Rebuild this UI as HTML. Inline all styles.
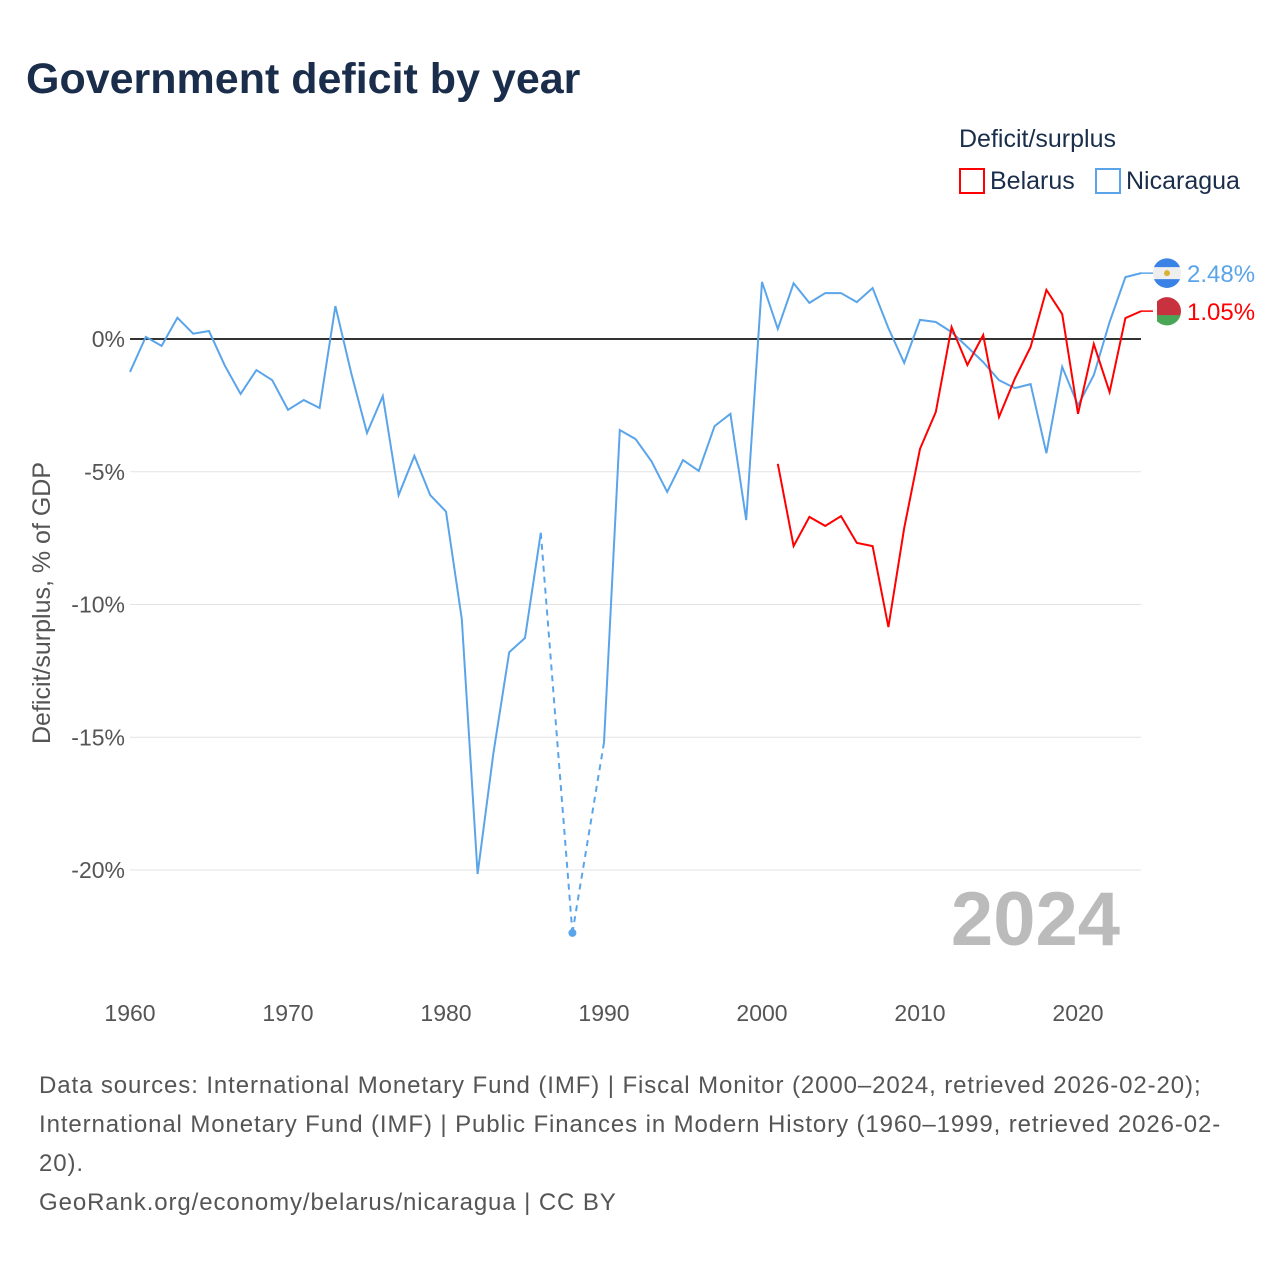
<!DOCTYPE html>
<html><head><meta charset="utf-8"><style>
body{margin:0;width:1280px;height:1280px;background:#fff;font-family:"Liberation Sans",sans-serif;overflow:hidden}
</style></head><body>
<svg id="chart" width="1280" height="1280" xmlns="http://www.w3.org/2000/svg">
<text x="26" y="93" font-size="43" font-weight="bold" fill="#1a2e4c">Government deficit by year</text>
<text x="959" y="147" font-size="25" fill="#1a2e4c">Deficit/surplus</text>
<g><rect x="960" y="169" width="24" height="24" fill="none" stroke="#f00" stroke-width="2"/><text x="990" y="189" font-size="25" fill="#1a2e4c">Belarus</text></g>
<g><rect x="1096" y="169" width="24" height="24" fill="none" stroke="#5aa5ea" stroke-width="2"/><text x="1126" y="189" font-size="25" fill="#1a2e4c">Nicaragua</text></g>
<text transform="translate(50,603) rotate(-90)" text-anchor="middle" font-size="25" fill="#555">Deficit/surplus, % of GDP</text>
<g id="grid"></g><g id="series"></g>
<text x="1120" y="945" text-anchor="end" font-size="76" font-weight="bold" fill="#bbb">2024</text>
<g font-size="24" fill="#555" letter-spacing="0.9">
<text x="39" y="1093">Data sources: International Monetary Fund (IMF) | Fiscal Monitor (2000–2024, retrieved 2026-02-20);</text>
<text x="39" y="1132">International Monetary Fund (IMF) | Public Finances in Modern History (1960–1999, retrieved 2026-02-</text>
<text x="39" y="1171">20).</text>
<text x="39" y="1210">GeoRank.org/economy/belarus/nicaragua | CC BY</text>
</g>
</svg>
<script>
const yTicks=[0,-5,-10,-15,-20];
const xTicks=[1960,1970,1980,1990,2000,2010,2020];
const nicYears=[1960,1961,1962,1963,1964,1965,1966,1967,1968,1969,1970,1971,1972,1973,1974,1975,1976,1977,1978,1979,1980,1981,1982,1983,1984,1985,1986,1988,1990,1991,1992,1993,1994,1995,1996,1997,1998,1999,2000,2001,2002,2003,2004,2005,2006,2007,2008,2009,2010,2011,2012,2013,2014,2015,2016,2017,2018,2019,2020,2021,2022,2023,2024];
const nicValues=[-1.24,0.08,-0.26,0.8,0.2,0.3,-1.0,-2.07,-1.17,-1.55,-2.67,-2.3,-2.6,1.24,-1.28,-3.54,-2.15,-5.88,-4.4,-5.88,-6.5,-10.55,-20.15,-15.6,-11.8,-11.26,-7.3,-22.37,-15.2,-3.43,-3.77,-4.6,-5.76,-4.56,-4.97,-3.28,-2.82,-6.82,2.15,0.38,2.1,1.36,1.73,1.73,1.39,1.92,0.41,-0.9,0.72,0.64,0.26,-0.3,-0.87,-1.55,-1.85,-1.7,-4.3,-1.05,-2.5,-1.36,0.64,2.33,2.48];
const blrYears=[2001,2002,2003,2004,2005,2006,2007,2008,2009,2010,2011,2012,2013,2014,2015,2016,2017,2018,2019,2020,2021,2022,2023,2024];
const blrValues=[-4.7,-7.8,-6.7,-7.04,-6.67,-7.68,-7.8,-10.85,-7.12,-4.14,-2.75,0.45,-0.98,0.15,-2.94,-1.5,-0.3,1.85,0.94,-2.82,-0.19,-2.0,0.79,1.05];
const NS="http://www.w3.org/2000/svg";
const X=y=>130+(y-1960)*15.8, Y=v=>339-v*26.55;
function mk(t,a,p){const e=document.createElementNS(NS,t);for(const k in a)e.setAttribute(k,a[k]);p.appendChild(e);return e;}
const grid=document.getElementById('grid'),ser=document.getElementById('series');
yTicks.forEach(v=>{
 const l=mk('line',{x1:130,x2:1141,y1:Y(v),y2:Y(v),stroke:v===0?'#333':'#e3e3e3','stroke-width':v===0?2:1},grid);
 
 
 const t=mk('text',{x:125,y:Y(v)+8,'text-anchor':'end','font-size':23,fill:'#555'},grid);
 t.textContent=v+'%';
 
 
});
xTicks.forEach(y=>{
 const t=mk('text',{x:X(y),y:1021,'text-anchor':'middle','font-size':23,fill:'#555'},grid);
 t.textContent=y;
 
 
});
function draw(years,vals,color,name){
 let seg=[];
 for(let i=0;i<years.length;i++){
  if(i>0&&years[i]-years[i-1]>1){
   const d=mk('line',{x1:X(years[i-1]),y1:Y(vals[i-1]),x2:X(years[i]),y2:Y(vals[i]),stroke:color,'stroke-width':2,'stroke-dasharray':'6,5'},ser);
   
   
   if(seg.length>1){const p=mk('polyline',{points:seg.join(' '),fill:'none',stroke:color,'stroke-width':2},ser);}
   seg=[];
  }
  seg.push(X(years[i])+','+Y(vals[i]));
 }
 if(seg.length>1){const p=mk('polyline',{points:seg.join(' '),fill:'none',stroke:color,'stroke-width':2},ser);}
 for(let i=0;i<years.length;i++){
  const isolated=(i===0||years[i]-years[i-1]>1)&&(i===years.length-1||years[i+1]-years[i]>1);
  if(isolated){const c=mk('circle',{cx:X(years[i]),cy:Y(vals[i]),r:4,fill:color},ser);}
 }
}
draw(nicYears,nicValues,'#5aa5ea','nicaragua');
draw(blrYears,blrValues,'#f00','belarus');
function endLabel(v,color,name,flag){
 const y=Y(v);
 const g=mk('g',{},ser);
 
 
 mk('line',{x1:1141,y1:y,x2:1155,y2:y,stroke:color,'stroke-width':1.5},g);
 if(flag==='nic'){
  mk('circle',{cx:1167,cy:y,r:14,fill:'#eee'},g);
  mk('path',{d:`M1154,${y-6} A14,14 0 0 1 1180,${y-6} Z`,fill:'#3b82e6'},g);
  mk('path',{d:`M1154,${y+6} A14,14 0 0 0 1180,${y+6} Z`,fill:'#3b82e6'},g);
  mk('circle',{cx:1167,cy:y,r:3,fill:'#d9b23a'},g);
 } else {
  mk('circle',{cx:1167,cy:y,r:14,fill:'#c8313e'},g);
  mk('path',{d:`M1153.5,${y+4} A14,14 0 0 0 1180.5,${y+4} Z`,fill:'#4aa657'},g);
  mk('rect',{x:1153,y:y-12,width:4,height:24,fill:'#fff'},g);
 }
 const t=mk('text',{x:1187,y:y+9,'font-size':24,fill:color},g);
 t.textContent=v.toFixed(2)+'%';
}
endLabel(nicValues[nicValues.length-1],'#5aa5ea','nicaragua','nic');
endLabel(blrValues[blrValues.length-1],'#f00','belarus','blr');
</script>
</body></html>
